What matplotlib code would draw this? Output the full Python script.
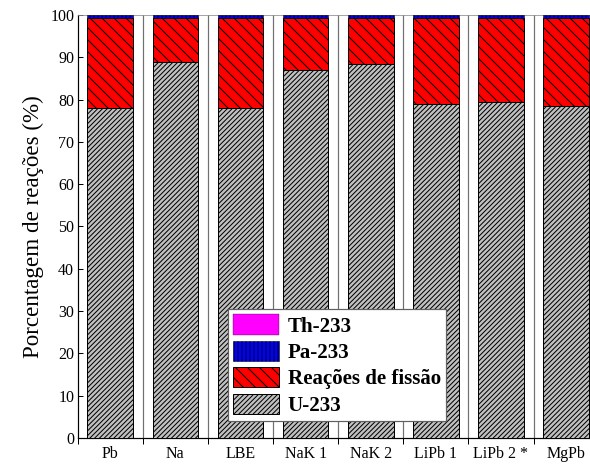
import numpy as np
import matplotlib
matplotlib.use('Agg')
import matplotlib.pyplot as plt

plt.rcParams['font.family'] = ['Liberation Serif', 'DejaVu Serif']
plt.rcParams['hatch.linewidth'] = 1.0

# Reaction shares per coolant (%)
coolants = ['Pb', 'Na', 'LBE', 'NaK 1', 'NaK 2', 'LiPb 1', 'LiPb 2 *', 'MgPb']
u233 = [78.0, 88.8, 78.0, 87.0, 88.5, 78.9, 79.4, 78.4]
fissao = [21.2, 10.4, 21.2, 12.2, 10.7, 20.3, 19.8, 20.8]
pa233 = [0.78, 0.78, 0.78, 0.78, 0.78, 0.78, 0.78, 0.78]
th233 = [0.02, 0.02, 0.02, 0.02, 0.02, 0.02, 0.02, 0.02]

fig = plt.figure(figsize=(590 / 72, 466 / 72), dpi=72)
ax = fig.add_axes([0.1317, 0.0601, 0.883, 0.9077])

x = np.arange(len(coolants)) + 0.5
w = 0.7
u = np.array(u233)
f = np.array(fissao)
p = np.array(pa233)

b_u = ax.bar(x, u, w, color='#c0c0c0', edgecolor='black', hatch='/////', lw=1, zorder=3)
b_f = ax.bar(x, f, w, bottom=u, color='#ff0000', edgecolor='black', hatch='\\\\', lw=1, zorder=3)
b_p = ax.bar(x, p, w, bottom=u + f, color='#0000ff', edgecolor='black', hatch='|||', lw=0.5, zorder=3)
b_t = ax.bar(x, th233, w, bottom=u + f + p, color='#ff00ff', edgecolor='black', lw=0.3, zorder=3)

# separators between coolant groups
for b in range(1, len(coolants)):
    ax.axvline(b, color='#707070', lw=1.2, zorder=1)

ax.set_xlim(0, len(coolants))
ax.set_ylim(0, 100)
ax.set_yticks(np.arange(0, 101, 10))
ax.set_xticks(np.arange(0, len(coolants) + 1))
ax.set_xticklabels([])
ax.set_xticks(x, minor=True)
ax.set_xticklabels(coolants, minor=True)
ax.tick_params(axis='x', which='major', direction='out', length=6, width=1)
ax.tick_params(axis='x', which='minor', length=0, labelsize=16, pad=8)
ax.tick_params(axis='y', direction='in', length=5, width=1, labelsize=16)
ax.spines['top'].set_color('#909090')
ax.spines['left'].set_linewidth(1.2)
ax.spines['bottom'].set_linewidth(1.2)

ax.set_ylabel('Porcentagem de reações (%)', fontsize=23, labelpad=6)

leg = ax.legend([b_t, b_p, b_f, b_u], ['Th-233', 'Pa-233', 'Reações de fissão', 'U-233'],
                loc='lower left', bbox_to_anchor=(0.288, 0.04), borderaxespad=0,
                prop={'weight': 'bold', 'size': 21}, handlelength=2.2, handleheight=1.1,
                labelspacing=0.2, handletextpad=0.4, borderpad=0.25,
                fancybox=False, framealpha=1, edgecolor='#606060')
leg.get_frame().set_linewidth(1.2)
leg.set_zorder(5)

fig.savefig('out.png', dpi=72)
